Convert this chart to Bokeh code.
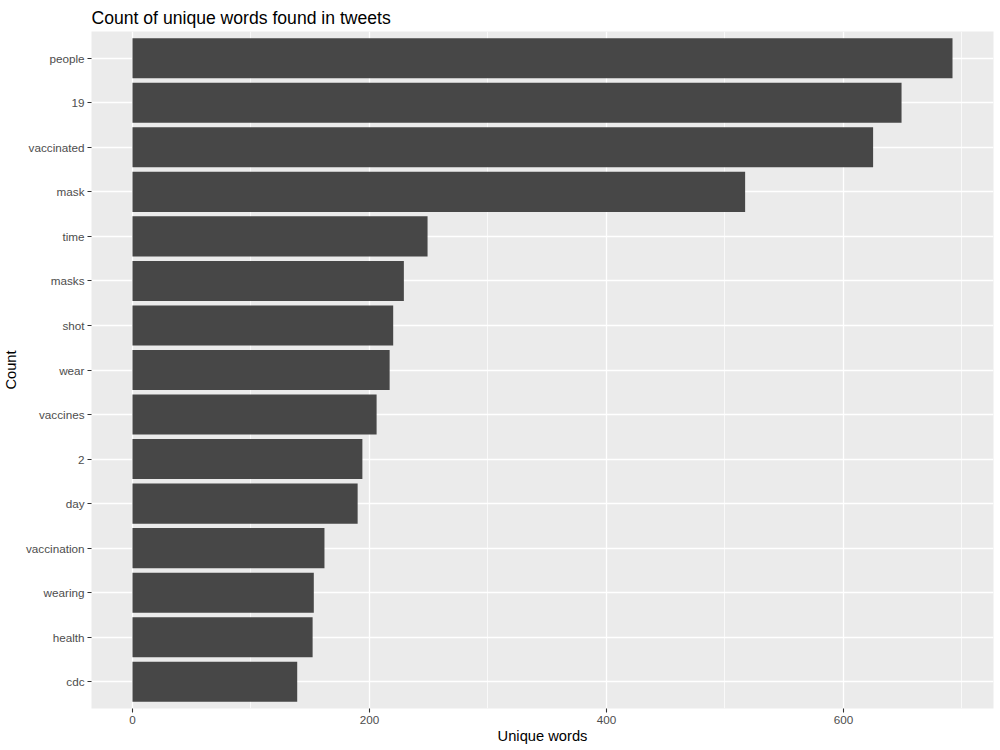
from bokeh.plotting import figure
from bokeh.models import FactorRange, Range1d, FixedTicker
from bokeh.embed import file_html
from bokeh.resources import INLINE

words = ["people", "19", "vaccinated", "mask", "time", "masks", "shot", "wear",
         "vaccines", "2", "day", "vaccination", "wearing", "health", "cdc"]
counts = [692, 649, 625, 517, 249, 229, 220, 217, 206, 194, 190, 162, 153, 152, 139]
x_ticks = [0, 200, 400, 600]
x_minor = [100, 300, 500, 700]

FONT = "Liberation Sans"

factors = list(reversed(words))
xmax = max(counts)
p = figure(width=1000, height=750, output_backend="svg", toolbar_location=None,
           y_range=FactorRange(factors=factors, range_padding=0.1, range_padding_units="absolute"),
           x_range=Range1d(-0.05 * xmax, 1.05 * xmax),
           min_border_left=90, min_border_right=7, min_border_top=31, min_border_bottom=42,
           title="Count of unique words found in tweets")

p.hbar(y=words, right=counts, left=0, height=0.9, fill_color="#474747", line_color=None)

p.background_fill_color = "#EBEBEB"
p.border_fill_color = "white"
p.outline_line_color = None

p.title.text_font = FONT
p.title.text_font_size = "17.6px"
p.title.text_font_style = "normal"
p.title.text_color = "black"
p.title.align = "left"
p.title.vertical_align = "middle"
p.title.offset = 0
p.title.standoff = 6

p.xaxis.ticker = FixedTicker(ticks=x_ticks, minor_ticks=x_minor)
p.xaxis.axis_label = "Unique words"
p.yaxis.axis_label = "Count"

for ax in (p.xaxis[0], p.yaxis[0]):
    ax.axis_line_color = None
    ax.major_tick_line_color = "#333333"
    ax.major_tick_line_width = 1.1
    ax.major_tick_out = 4
    ax.major_tick_in = 0
    ax.minor_tick_line_color = None
    ax.major_label_text_font = FONT
    ax.major_label_text_font_size = "11.7px"
    ax.major_label_text_color = "#4D4D4D"
    ax.major_label_standoff = 3
    ax.axis_label_text_font = FONT
    ax.axis_label_text_font_size = "14.7px"
    ax.axis_label_text_font_style = "normal"
    ax.axis_label_text_color = "black"
    ax.axis_label_standoff = 4

p.xaxis[0].axis_label_standoff = 1

p.xgrid.grid_line_color = "white"
p.xgrid.grid_line_width = 1.3
p.xgrid.minor_grid_line_color = "white"
p.xgrid.minor_grid_line_width = 0.7
p.ygrid.grid_line_color = "white"
p.ygrid.grid_line_width = 1.3

open("out.html", "w").write(file_html(p, INLINE))
